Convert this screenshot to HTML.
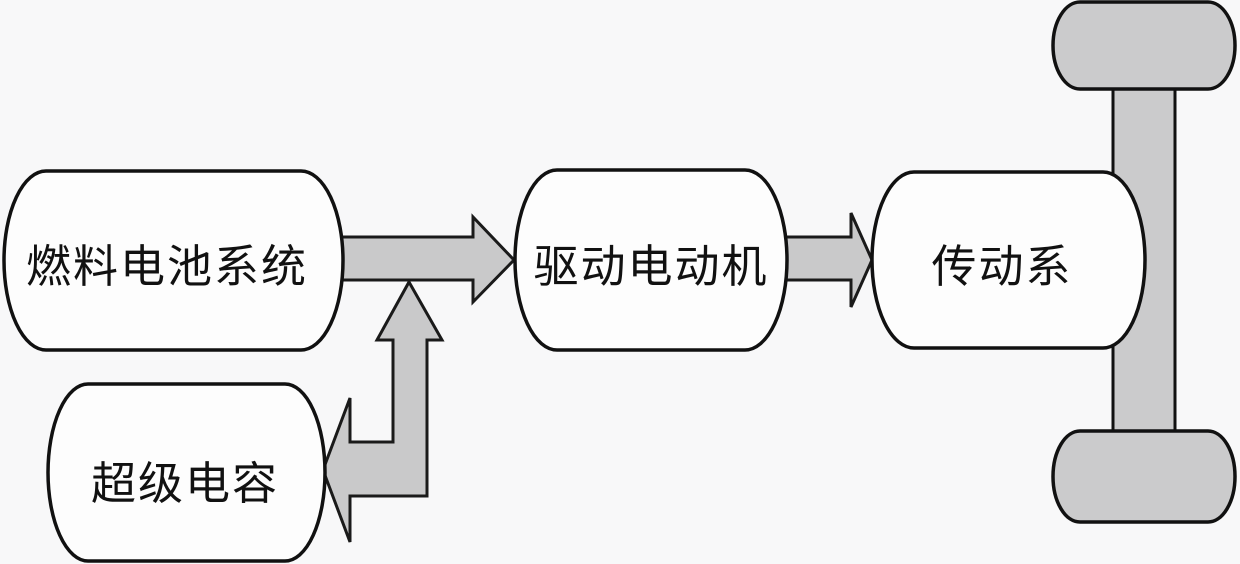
<!DOCTYPE html>
<html>
<head>
<meta charset="utf-8">
<style>
html,body{margin:0;padding:0;background:#f8f8f9;}
svg{display:block;}
text{font-family:"Liberation Sans","Noto Sans CJK SC","WenQuanYi Zen Hei",sans-serif;font-size:45px;fill:#111;letter-spacing:2px;}
</style>
</head>
<body>
<svg width="1240" height="564" viewBox="0 0 1240 564" xmlns="http://www.w3.org/2000/svg">
  <rect x="0" y="0" width="1240" height="564" fill="#f8f8f9"/>

  <!-- axle -->
  <rect x="1113" y="85" width="62" height="350" fill="#cbcbcc" stroke="#111" stroke-width="3"/>
  <!-- wheels -->
  <path d="M1080,2 H1208 A27,43.5 0 0 1 1208,89 H1080 A27,43.5 0 0 1 1080,2 Z" fill="#cbcbcc" stroke="#111" stroke-width="3.5"/>
  <path d="M1080,431 H1208 A27,45.5 0 0 1 1208,522 H1080 A27,45.5 0 0 1 1080,431 Z" fill="#cbcbcc" stroke="#111" stroke-width="3.5"/>

  <!-- arrow fuel cell -> motor -->
  <polygon points="343,237 473,237 473,217 514,260 473,302 473,280 343,280" fill="#c9c9ca"/>
  <polyline points="343,237 473,237 473,217 514,260 473,302 473,280 343,280" fill="none" stroke="#1a1a1a" stroke-width="3" stroke-linejoin="miter"/>

  <!-- arrow supercap bidirectional -->
  <polygon points="409,282 442,340 427,340 427,496 350,496 350,542 323,470 350,398 350,442 393,442 393,340 377,340" fill="#c9c9ca" stroke="#1a1a1a" stroke-width="3" stroke-linejoin="miter"/>

  <!-- arrow motor -> transmission -->
  <polygon points="787,237 851,237 851,213 872,260 851,307 851,280 787,280" fill="#c9c9ca"/>
  <polyline points="787,237 851,237 851,213 872,260 851,307 851,280 787,280" fill="none" stroke="#1a1a1a" stroke-width="3"/>

  <!-- boxes -->
  <path d="M46,171 H301 A42,89.5 0 0 1 301,350 H46 A42,89.5 0 0 1 46,171 Z" fill="#fdfdfd" stroke="#111" stroke-width="3.5"/>
  <path d="M557,170 H745 A42,90 0 0 1 745,350 H557 A42,90 0 0 1 557,170 Z" fill="#fdfdfd" stroke="#111" stroke-width="3.5"/>
  <path d="M914,172 H1103 A42,88 0 0 1 1103,348 H914 A42,88 0 0 1 914,172 Z" fill="#fdfdfd" stroke="#111" stroke-width="3.5"/>
  <path d="M88,384 H285 A40,88.5 0 0 1 285,561 H88 A40,88.5 0 0 1 88,384 Z" fill="#fdfdfd" stroke="#111" stroke-width="3.5"/>

  <!-- labels -->
  <text x="167" y="282" text-anchor="middle">燃料电池系统</text>
  <text x="651" y="282" text-anchor="middle">驱动电动机</text>
  <text x="1002" y="282" text-anchor="middle">传动系</text>
  <text x="185" y="499" text-anchor="middle">超级电容</text>
</svg>
</body>
</html>
